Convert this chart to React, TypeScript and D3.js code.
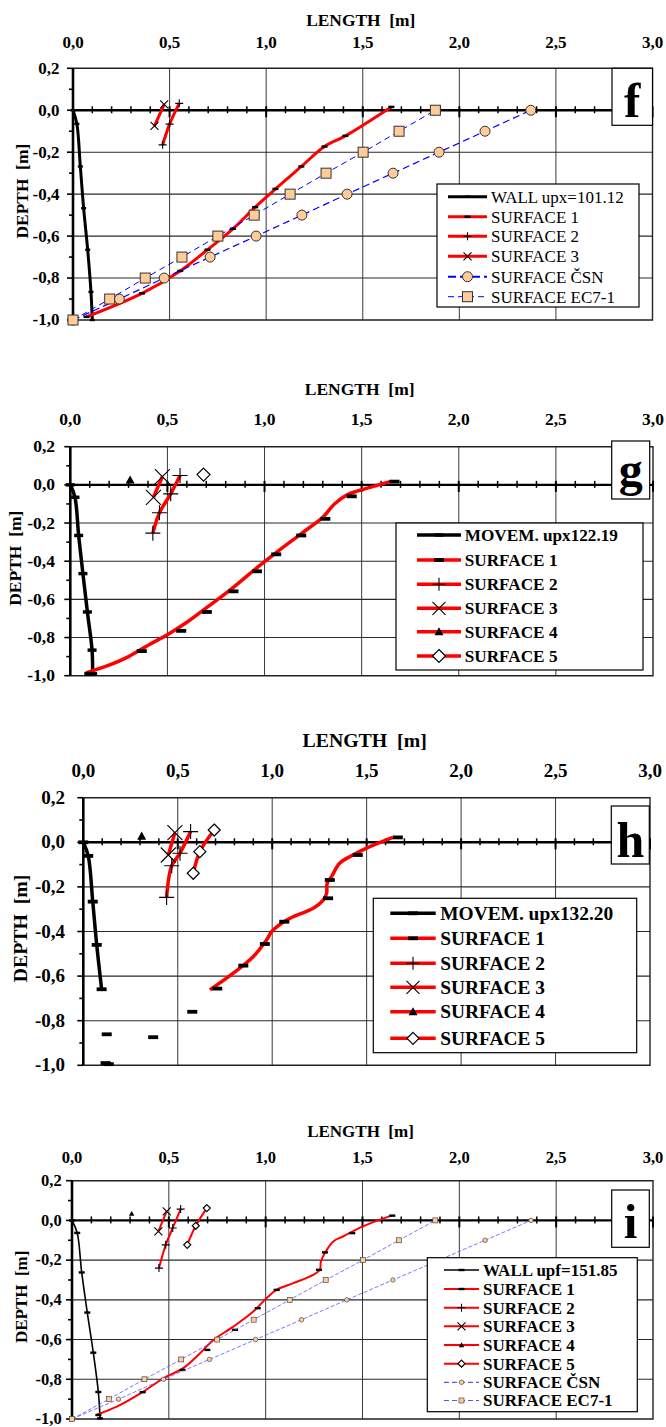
import React from 'react';
import * as d3 from 'd3';

type Pt = [number, number];

// ---- axis ticks ----
const X_TICK_VALUES = [0, 0.5, 1, 1.5, 2, 2.5, 3];
const X_TICK_LABELS = ['0,0', '0,5', '1,0', '1,5', '2,0', '2,5', '3,0'];
const Y_TICK_VALUES = [0.2, 0, -0.2, -0.4, -0.6, -0.8, -1];
const Y_TICK_LABELS = ['0,2', '0,0', '-0,2', '-0,4', '-0,6', '-0,8', '-1,0'];
const X_TITLE = 'LENGTH  [m]';
const Y_TITLE = 'DEPTH  [m]';

// ---- shared design surfaces ----
const CSN: Pt[] = [[0, -1], [0.24, -0.9], [0.472, -0.8], [0.71, -0.7], [0.948, -0.6], [1.185, -0.5], [1.419, -0.4], [1.657, -0.3], [1.895, -0.2], [2.133, -0.1], [2.37, 0]];
const EC7: Pt[] = [[0, -1], [0.19, -0.9], [0.374, -0.8], [0.564, -0.7], [0.75, -0.6], [0.938, -0.5], [1.124, -0.4], [1.31, -0.3], [1.502, -0.2], [1.688, -0.1], [1.876, 0]];

// ---- panel f ----
const WALL_F: Pt[] = [[0, 0], [0.02, -0.065], [0.038, -0.268], [0.055, -0.467], [0.076, -0.665], [0.093, -0.866], [0.1, -1.0]];
const S1_F: Pt[] = [[0.07, -0.985], [0.357, -0.873], [0.555, -0.766], [0.696, -0.665], [0.828, -0.565], [0.943, -0.462], [1.048, -0.375], [1.182, -0.268], [1.302, -0.173], [1.41, -0.122], [1.648, 0.016]];
const S2_F: Pt[] = [[0.464, -0.165], [0.5, -0.066], [0.55, 0.033]];
const S3_F: Pt[] = [[0.422, -0.075], [0.472, 0.028]];

// ---- panel g ----
const WALL_G: Pt[] = [[0, 0], [0.024, -0.065], [0.043, -0.265], [0.065, -0.465], [0.088, -0.666], [0.112, -0.866], [0.115, -0.99]];
const S1_G: Pt[] = [[0.098, -0.99], [0.368, -0.871], [0.571, -0.765], [0.703, -0.666], [0.84, -0.558], [0.961, -0.453], [1.06, -0.364], [1.189, -0.265], [1.313, -0.178], [1.449, -0.06], [1.669, 0.017]];
const S1_G_LINE: Pt[] = [[0.081, -0.985], [0.2, -0.945], [0.3, -0.9], [0.41, -0.835], [0.5, -0.785], [0.6, -0.72], [0.7, -0.645], [0.83, -0.545], [0.96, -0.435], [1.06, -0.355], [1.19, -0.255], [1.3, -0.17], [1.36, -0.1], [1.43, -0.05], [1.52, -0.02], [1.646, 0.017]];
const S2_G: Pt[] = [[0.425, -0.253], [0.459, -0.146], [0.517, -0.047], [0.565, 0.049]];
const S3_G: Pt[] = [[0.428, -0.065], [0.474, 0.043]];
const S4_G: Pt[] = [[0.308, 0.026]];
const S5_G: Pt[] = [[0.686, 0.054]];

// ---- panel h ----
const WALL_H: Pt[] = [[0, 0], [0.026, -0.061], [0.05, -0.266], [0.071, -0.46], [0.097, -0.659], [0.124, -0.861], [0.135, -0.995]];
const WALL_H_LINE: Pt[] = [[0, 0], [0.026, -0.061], [0.05, -0.266], [0.071, -0.46], [0.097, -0.659]];
const S1_H: Pt[] = [[0.118, -0.99], [0.37, -0.874], [0.577, -0.76], [0.709, -0.656], [0.847, -0.553], [0.961, -0.456], [1.064, -0.356], [1.296, -0.251], [1.305, -0.169], [1.453, -0.057], [1.665, 0.022]];
const S1_H_LINE: Pt[] = [[0.67, -0.662], [0.794, -0.587], [0.899, -0.513], [0.97, -0.438], [0.997, -0.401], [1.05, -0.363], [1.111, -0.334], [1.217, -0.296], [1.27, -0.259], [1.288, -0.229], [1.291, -0.184], [1.314, -0.154], [1.357, -0.094], [1.427, -0.057], [1.497, -0.027], [1.639, 0.022]];
const S2_H: Pt[] = [[0.441, -0.247], [0.468, -0.105], [0.512, -0.049], [0.568, 0.048]];
const S3_H: Pt[] = [[0.45, -0.057], [0.485, 0.043]];
const S4_H: Pt[] = [[0.309, 0.028]];
const S5_H: Pt[] = [[0.582, -0.139], [0.617, -0.042], [0.693, 0.055]];

// ---- panel i ----
const WALL_I: Pt[] = [[0, 0], [0.027, -0.063], [0.05, -0.262], [0.079, -0.464], [0.11, -0.666], [0.136, -0.864], [0.145, -0.997]];
const S1_I: Pt[] = [[0.136, -0.98], [0.365, -0.865], [0.571, -0.753], [0.699, -0.652], [0.842, -0.551], [0.959, -0.442], [1.057, -0.35], [1.275, -0.249], [1.306, -0.161], [1.447, -0.064], [1.654, 0.024]];
const S1_I_LINE: Pt[] = [[0.124, -0.98], [0.231, -0.938], [0.368, -0.862], [0.471, -0.795], [0.574, -0.744], [0.661, -0.669], [0.73, -0.602], [0.833, -0.535], [0.936, -0.459], [1.005, -0.391], [1.057, -0.349], [1.143, -0.316], [1.245, -0.274], [1.28, -0.249], [1.285, -0.207], [1.306, -0.164], [1.349, -0.106], [1.399, -0.081], [1.502, -0.03], [1.649, 0.024]];
const S2_I: Pt[] = [[0.449, -0.24], [0.484, -0.123], [0.52, -0.038], [0.561, 0.057]];
const S3_I: Pt[] = [[0.446, -0.055], [0.489, 0.045]];
const S4_I: Pt[] = [[0.308, 0.034]];
const S5_I: Pt[] = [[0.595, -0.123], [0.639, -0.027], [0.696, 0.062]];

type MarkerKind = 'dash' | 'plus' | 'cross' | 'tri' | 'diamond' | 'circle' | 'square' | 'none';

interface Series {
  label: string;
  marks: Pt[];
  line?: Pt[];
  color: string;
  width: number;
  dash?: string;
  marker: MarkerKind;
  ms: number;
  smooth?: boolean;
  legendWidth?: number;
  legendDash?: string;
}

interface PanelCfg {
  left: number; right: number; top: number; bottom: number;
  titleY: number; tickLabelY: number; tickFont: number; titleFont: number;
  yLabelX: number; yTickRight: number;
  legend: { x: number; y: number; w: number; h: number; x1: number; x2: number; tx: number; rows: number[]; font: number; weight: string };
  box: { x: number; y: number; w: number; h: number; letter: string; base: number; size: number };
  series: Series[];
}

const RED = '#ff0000';
const BLUE = '#0000ff';
const PEACH = '#ffcc99';
const FONT = 'Liberation Serif, Times New Roman, serif';

const PANELS: PanelCfg[] = [
  {
    left: 73, right: 652.5, top: 68.3, bottom: 320,
    titleY: 26, tickLabelY: 48, tickFont: 17, titleFont: 17.4, yLabelX: 22, yTickRight: 59.5,
    legend: { x: 437, y: 184, w: 202, h: 123, x1: 448, x2: 487, tx: 491, rows: [196.7, 216.7, 236.3, 256.3, 276.7, 296.7], font: 17, weight: 'normal' },
    box: { x: 612, y: 68.3, w: 40.5, h: 57, letter: 'f', base: 117, size: 49 },
    series: [
      { label: 'WALL upx=101.12', marks: WALL_F, color: '#000', width: 3, marker: 'dash', ms: 5, smooth: true },
      { label: 'SURFACE 1', marks: S1_F, color: RED, width: 3, marker: 'dash', ms: 6, smooth: true },
      { label: 'SURFACE 2', marks: S2_F, color: RED, width: 3, marker: 'plus', ms: 8, smooth: true },
      { label: 'SURFACE 3', marks: S3_F, color: RED, width: 3, marker: 'cross', ms: 8, smooth: true },
      { label: 'SURFACE ČSN', marks: CSN, color: BLUE, width: 1.2, dash: '7,4', marker: 'circle', ms: 10, legendWidth: 2, legendDash: '8,4' },
      { label: 'SURFACE EC7-1', marks: EC7, color: BLUE, width: 1.0, dash: '6,4', marker: 'square', ms: 10, legendWidth: 1, legendDash: '6,4' },
    ],
  },
  {
    left: 70.3, right: 653, top: 446.7, bottom: 675.7,
    titleY: 395, tickLabelY: 425, tickFont: 17.5, titleFont: 17.5, yLabelX: 15, yTickRight: 55,
    legend: { x: 396, y: 523, w: 247, h: 147, x1: 417, x2: 461, tx: 464.7, rows: [535, 560, 584.3, 608.3, 631.7, 656], font: 17.2, weight: 'bold' },
    box: { x: 611.7, y: 441, w: 38, h: 58, letter: 'g', base: 486, size: 48 },
    series: [
      { label: 'MOVEM. upx122.19', marks: WALL_G, color: '#000', width: 3.5, marker: 'dash', ms: 9, smooth: true },
      { label: 'SURFACE 1', marks: S1_G, line: S1_G_LINE, color: RED, width: 3.5, marker: 'dash', ms: 10, smooth: true },
      { label: 'SURFACE 2', marks: S2_G, color: RED, width: 3.5, marker: 'plus', ms: 15, smooth: true },
      { label: 'SURFACE 3', marks: S3_G, color: RED, width: 3.5, marker: 'cross', ms: 15, smooth: true },
      { label: 'SURFACE 4', marks: S4_G, color: RED, width: 3.5, marker: 'tri', ms: 9 },
      { label: 'SURFACE 5', marks: S5_G, color: RED, width: 3.5, marker: 'diamond', ms: 13 },
    ],
  },
  {
    left: 83.3, right: 650, top: 797.7, bottom: 1065.3,
    titleY: 747, tickLabelY: 777, tickFont: 19, titleFont: 19.8, yLabelX: 20, yTickRight: 65,
    legend: { x: 373.3, y: 898.3, w: 263.4, h: 154.4, x1: 390.3, x2: 435.7, tx: 440.3, rows: [913.3, 938.3, 963.3, 987.3, 1011.7, 1038.3], font: 19.4, weight: 'bold' },
    box: { x: 611.3, y: 806, w: 38, h: 58, letter: 'h', base: 857, size: 50 },
    series: [
      { label: 'MOVEM. upx132.20', marks: WALL_H, line: WALL_H_LINE, color: '#000', width: 3.5, marker: 'dash', ms: 10, smooth: true },
      { label: 'SURFACE 1', marks: S1_H, line: S1_H_LINE, color: RED, width: 3.5, marker: 'dash', ms: 10, smooth: true },
      { label: 'SURFACE 2', marks: S2_H, color: RED, width: 3.5, marker: 'plus', ms: 15, smooth: true },
      { label: 'SURFACE 3', marks: S3_H, color: RED, width: 3.5, marker: 'cross', ms: 15, smooth: true },
      { label: 'SURFACE 4', marks: S4_H, color: RED, width: 3.5, marker: 'tri', ms: 9 },
      { label: 'SURFACE 5', marks: S5_H, color: RED, width: 3.5, marker: 'diamond', ms: 12, smooth: true },
    ],
  },
  {
    left: 72, right: 653, top: 1180.7, bottom: 1419,
    titleY: 1137, tickLabelY: 1163, tickFont: 16.5, titleFont: 17, yLabelX: 21, yTickRight: 61.7,
    legend: { x: 427.3, y: 1257.7, w: 210, h: 154, x1: 444, x2: 479, tx: 483, rows: [1270, 1289, 1307.7, 1326.3, 1345, 1363.7, 1382.3, 1400.5], font: 17, weight: 'bold' },
    box: { x: 611.7, y: 1190, w: 37.6, h: 57.3, letter: 'i', base: 1238, size: 49 },
    series: [
      { label: 'WALL upf=151.85', marks: WALL_I, color: '#000', width: 1.6, marker: 'dash', ms: 6, smooth: true },
      { label: 'SURFACE 1', marks: S1_I, line: S1_I_LINE, color: RED, width: 2, marker: 'dash', ms: 6, smooth: true },
      { label: 'SURFACE 2', marks: S2_I, color: RED, width: 2, marker: 'plus', ms: 8, smooth: true },
      { label: 'SURFACE 3', marks: S3_I, color: RED, width: 2, marker: 'cross', ms: 8, smooth: true },
      { label: 'SURFACE 4', marks: S4_I, color: RED, width: 2, marker: 'tri', ms: 5.5 },
      { label: 'SURFACE 5', marks: S5_I, color: RED, width: 2, marker: 'diamond', ms: 7, smooth: true },
      { label: 'SURFACE ČSN', marks: CSN, color: '#5555ff', width: 0.8, dash: '4,2', marker: 'circle', ms: 4.5, legendWidth: 1.2, legendDash: '5,3' },
      { label: 'SURFACE EC7-1', marks: EC7, color: '#5555ff', width: 0.8, dash: '4,2', marker: 'square', ms: 5, legendWidth: 1.2, legendDash: '5,3' },
    ],
  },
];

function Marker({ kind, cx, cy, s }: { kind: MarkerKind; cx: number; cy: number; s: number }) {
  const h = s / 2;
  switch (kind) {
    case 'dash':
      return <rect x={cx - h} y={cy - Math.max(1.2, s * 0.19)} width={s} height={Math.max(2.4, s * 0.38)} fill="#000" />;
    case 'plus':
      return <path d={`M${cx - h},${cy}H${cx + h}M${cx},${cy - h}V${cy + h}`} stroke="#000" strokeWidth={1.1} fill="none" />;
    case 'cross':
      return <path d={`M${cx - h},${cy - h}L${cx + h},${cy + h}M${cx - h},${cy + h}L${cx + h},${cy - h}`} stroke="#000" strokeWidth={1.1} fill="none" />;
    case 'tri':
      return <path d={`M${cx},${cy - h}L${cx + h},${cy + h * 0.8}L${cx - h},${cy + h * 0.8}Z`} fill="#000" />;
    case 'diamond':
      return <path d={`M${cx},${cy - h}L${cx + h},${cy}L${cx},${cy + h}L${cx - h},${cy}Z`} fill="#fff" stroke="#000" strokeWidth={1.2} />;
    case 'circle':
      return <circle cx={cx} cy={cy} r={h} fill={PEACH} stroke="#333" strokeWidth={s > 6 ? 1 : 0.6} />;
    case 'square':
      return <rect x={cx - h} y={cy - h} width={s} height={s} fill={PEACH} stroke="#333" strokeWidth={s > 6 ? 1 : 0.6} />;
    default:
      return null;
  }
}

function PanelView({ p }: { p: PanelCfg }) {
  const x = d3.scaleLinear().domain([0, 3]).range([p.left, p.right]);
  const y = d3.scaleLinear().domain([-1, 0.2]).range([p.bottom, p.top]);
  const y0 = y(0);
  const xMinor = d3.range(1, 31);
  const yMinor = d3.range(-10, 3);
  const vGrid = [0.5, 1, 1.5, 2, 2.5];
  const hGrid = [-0.2, -0.4, -0.6, -0.8];
  const smoothLine = d3.line<Pt>().x(d => x(d[0])).y(d => y(d[1])).curve(d3.curveCatmullRom.alpha(0.5));
  const straightLine = d3.line<Pt>().x(d => x(d[0])).y(d => y(d[1]));
  const L = p.legend;
  const B = p.box;

  return (
    <g fontFamily={FONT}>
      {/* grid */}
      {vGrid.map(v => (
        <line key={'v' + v} x1={x(v)} x2={x(v)} y1={p.top} y2={p.bottom} stroke="#3a3a3a" strokeWidth={1} />
      ))}
      {hGrid.map(v => (
        <line key={'h' + v} x1={p.left} x2={p.right} y1={y(v)} y2={y(v)} stroke="#2a2a2a" strokeWidth={1.1} />
      ))}
      {/* frame */}
      <path d={`M${p.left},${p.top}H${p.right}V${p.bottom}H${p.left}`} fill="none" stroke="#222" strokeWidth={1.4} />
      {/* axes */}
      <line x1={p.left} x2={p.right} y1={y0} y2={y0} stroke="#000" strokeWidth={2.4} />
      <line x1={p.left} x2={p.left} y1={p.top} y2={p.bottom} stroke="#000" strokeWidth={2.6} />
      {xMinor.map(i => {
        const major = i % 5 === 0;
        return <line key={'xt' + i} x1={x(i / 10)} x2={x(i / 10)} y1={y0 - 4} y2={y0 + (major ? 7 : 3)} stroke="#000" strokeWidth={major ? 2 : 1.5} />;
      })}
      {yMinor.map(i => {
        const major = i % 2 === 0;
        return <line key={'yt' + i} x1={p.left - (major ? 6 : 4)} x2={p.left} y1={y(i / 10)} y2={y(i / 10)} stroke="#000" strokeWidth={1.6} />;
      })}
      {/* tick labels */}
      {X_TICK_VALUES.map((v, i) => (
        <text key={'xl' + v} x={x(v)} y={p.tickLabelY} textAnchor="middle" fontWeight="bold" fontSize={p.tickFont}>{X_TICK_LABELS[i]}</text>
      ))}
      {Y_TICK_VALUES.map((v, i) => (
        <text key={'yl' + v} x={p.yTickRight} y={y(v)} dy="0.32em" textAnchor="end" fontWeight="bold" fontSize={p.tickFont}>{Y_TICK_LABELS[i]}</text>
      ))}
      <text x={(p.left + p.right) / 2 - 2} y={p.titleY} textAnchor="middle" fontWeight="bold" fontSize={p.titleFont} style={{ whiteSpace: 'pre' }}>{X_TITLE}</text>
      <text transform={`translate(${p.yLabelX},${(p.top + p.bottom) / 2 - 3}) rotate(-90)`} dy="0.35em" textAnchor="middle" fontWeight="bold" fontSize={p.titleFont} style={{ whiteSpace: 'pre' }}>{Y_TITLE}</text>

      {/* series */}
      {p.series.map((s, si) => {
        const pts = s.line ?? s.marks;
        const gen = s.smooth ? smoothLine : straightLine;
        return (
          <g key={'s' + si}>
            {pts.length > 1 && (
              <path d={gen(pts) ?? ''} fill="none" stroke={s.color} strokeWidth={s.width} strokeDasharray={s.dash} strokeLinejoin="round" />
            )}
            {s.marks.map((d, k) => (
              <Marker key={k} kind={s.marker} cx={x(d[0])} cy={y(d[1])} s={s.ms} />
            ))}
          </g>
        );
      })}

      {/* legend */}
      <rect x={L.x} y={L.y} width={L.w} height={L.h} fill="#fff" stroke="#000" strokeWidth={1.2} />
      {p.series.map((s, si) => {
        const ry = L.rows[si];
        return (
          <g key={'lg' + si}>
            <line x1={L.x1} x2={L.x2} y1={ry} y2={ry} stroke={s.color} strokeWidth={s.legendWidth ?? s.width} strokeDasharray={s.legendDash ?? s.dash} />
            <Marker kind={s.marker} cx={(L.x1 + L.x2) / 2} cy={ry} s={Math.min(s.ms, 13)} />
            <text x={L.tx} y={ry} dy="0.35em" fontSize={L.font} fontWeight={L.weight}>{s.label}</text>
          </g>
        );
      })}

      {/* panel letter */}
      <rect x={B.x} y={B.y} width={B.w} height={B.h} fill="#fff" stroke="#000" strokeWidth={1.2} />
      <text x={B.x + B.w / 2} y={B.base} textAnchor="middle" fontWeight="bold" fontSize={B.size}>{B.letter}</text>
    </g>
  );
}

export default function App() {
  return (
    <svg width={666} height={1427} style={{ position: 'absolute', left: 0, top: 0, display: 'block' }}>
      <rect x={0} y={0} width={666} height={1427} fill="#fff" />
      {PANELS.map((p, i) => (
        <PanelView key={i} p={p} />
      ))}
    </svg>
  );
}
